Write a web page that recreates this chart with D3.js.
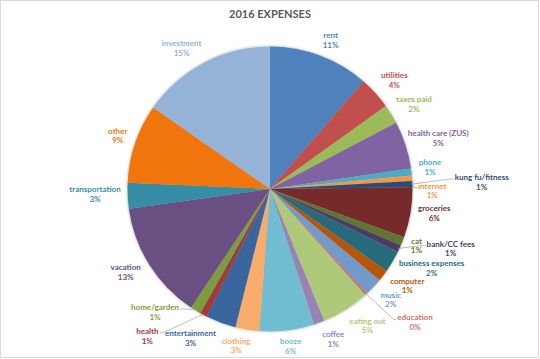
<!DOCTYPE html>
<html>
<head>
<meta charset="utf-8">
<script src="https://cdn.jsdelivr.net/npm/d3@7"></script>
<style>
  html, body { margin: 0; padding: 0; background: #fff; }
  svg { display: block; }
</style>
</head>
<body>
<svg id="chart" width="540" height="359"></svg>
<script>
// ---- data ----
const categories = ["rent", "utilities", "taxes paid", "health care (ZUS)", "phone", "internet",
  "kung fu/fitness", "groceries", "cat", "bank/CC fees", "business expenses", "computer",
  "music", "education", "eating out", "coffee", "booze", "clothing", "entertainment",
  "health", "home/garden", "vacation", "transportation", "other", "investment"];
const values = [11.4, 3.7, 2.2, 5.4, 0.8, 0.6, 0.7, 5.7, 1.0, 0.8, 2.45, 1.3, 2.0, 0.3,
  5.45, 1.2, 6.2, 2.7, 3.45, 0.8, 1.2, 13.45, 2.9, 9.0, 15.3];
const title = "2016 EXPENSES";

// ---- styles / layout ----
const colors = ["#4F81BD", "#C0504D", "#9BBB59", "#8064A2", "#4BACC6", "#F79646",
  "#2C4D75", "#772C2A", "#5F7530", "#4D3B62", "#276A7C", "#B65708",
  "#729ACA", "#CD7371", "#AFC97A", "#9983B5", "#6FBDD1", "#F9AB6B",
  "#39669D", "#9F3B38", "#7D9C41", "#6B4F83", "#348DA6", "#F1750A", "#95B3D7"];
const labelNudges = [[8, -8.5], [13.4, -8.3], [16.3, -6.2], [25.6, -4.6], [11.1, -4.1], [12.7, 12.8],
  [61.8, -1.8], [16.4, -1.1], [7, 1.1], [44.6, -3.7], [32.7, 2.4], [18.2, 5.1],
  [11.7, 7.5], [43.7, 22.6], [17.7, 9.3], [11.6, 9.2], [2.8, 8.3], [-10.1, 8.2],
  [-27.6, 8.3], [-52.5, 14.2], [-36.6, -4.9], [-17.3, 3.2], [-25.2, -2.3], [-10.2, -5.4], [-19, -8.2]];
const leaderLabels = ["internet", "kung fu/fitness", "bank/CC fees", "education", "health", "home/garden"];

const W = 540, H = 359;
const cx = 270, cy = 189, R = 142.5;
const FONT = "Lato, 'Open Sans', sans-serif";

const svg = d3.select("#chart");

// chart area border
svg.append("rect").attr("x", 0.5).attr("y", 0.5).attr("width", W - 2).attr("height", H - 2)
  .attr("fill", "#fff").attr("stroke", "#D9D9D9").attr("stroke-width", 1);

// title
svg.append("text").attr("x", cx).attr("y", 13).attr("text-anchor", "middle")
  .attr("dominant-baseline", "central")
  .attr("font-family", FONT).attr("font-weight", "bold").attr("font-size", 11)
  .attr("fill", "#595959").text(title);

// shadow filter
const defs = svg.append("defs");
const f = defs.append("filter").attr("id", "sh").attr("x", "-10%").attr("y", "-10%")
  .attr("width", "120%").attr("height", "120%");
f.append("feGaussianBlur").attr("in", "SourceAlpha").attr("stdDeviation", 1.6).attr("result", "b");
f.append("feFlood").attr("flood-color", "#000").attr("flood-opacity", 0.35).attr("result", "c");
f.append("feComposite").attr("in", "c").attr("in2", "b").attr("operator", "in").attr("result", "s");
const fm = f.append("feMerge");
fm.append("feMergeNode").attr("in", "s");
fm.append("feMergeNode").attr("in", "SourceGraphic");

const data = categories.map((c, i) => ({ name: c, value: values[i], color: colors[i], nudge: labelNudges[i] }));
const total = d3.sum(values);
const pct = d3.format(".0%");

const pie = d3.pie().sort(null).value(d => d.value);
const arcs = pie(data);
const arc = d3.arc().innerRadius(0).outerRadius(R);
const labelArc = d3.arc().innerRadius(150).outerRadius(150);
const rimArc = d3.arc().innerRadius(R - 1).outerRadius(R - 1);

const g = svg.append("g").attr("transform", `translate(${cx},${cy})`);

g.append("g").attr("filter", "url(#sh)")
  .selectAll("path").data(arcs).join("path")
  .attr("d", arc).attr("fill", d => d.data.color);

const leaderG = g.append("g");
const labelG = g.append("g");

arcs.forEach(d => {
  const [ax, ay] = labelArc.centroid(d);
  const lx = ax + d.data.nudge[0], ly = ay + d.data.nudge[1];
  const t = labelG.append("text")
    .attr("font-family", FONT).attr("font-weight", "bold").attr("font-size", 8)
    .attr("fill", d.data.color).attr("text-anchor", "middle");
  t.append("tspan").attr("x", lx).attr("y", ly - 4.75).attr("dominant-baseline", "central").text(d.data.name);
  t.append("tspan").attr("x", lx).attr("y", ly + 4.75).attr("dominant-baseline", "central").text(pct(d.data.value / total));
  if (leaderLabels.includes(d.data.name)) {
    const bb = t.node().getBBox();
    const [rx, ry] = rimArc.centroid(d);
    const right = lx > rx;
    const ex = right ? bb.x - 1 : bb.x + bb.width + 1;
    const ey = ly - 3;
    leaderG.append("polyline")
      .attr("points", `${rx},${ry} ${right ? ex - 3 : ex + 3},${ey} ${ex},${ey}`)
      .attr("fill", "none").attr("stroke", "#A6A6A6").attr("stroke-width", 0.75);
  }
});
</script>
</body>
</html>
